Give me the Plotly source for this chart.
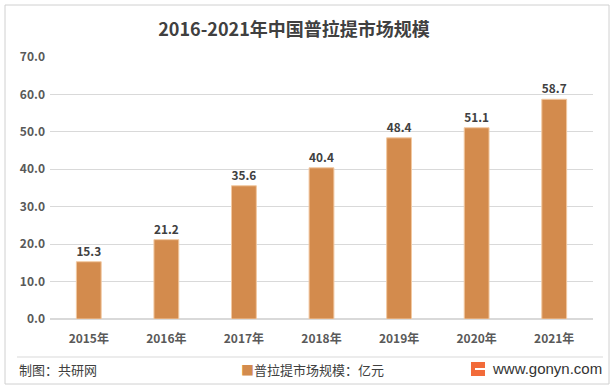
import plotly.graph_objects as go

years = ["2015年", "2016年", "2017年", "2018年", "2019年", "2020年", "2021年"]
values = [15.3, 21.2, 35.6, 40.4, 48.4, 51.1, 58.7]
y_ticks = [0, 10, 20, 30, 40, 50, 60, 70]
title_text = "2016-2021年中国普拉提市场规模"
series_name = "普拉提市场规模：亿元"
source_text = "制图：共研网"
site_text = "www.gonyn.com"

W, H = 614, 390
L, R, T, B = 50, 593, 57, 319  # plot area in px


def px(x):
    return (x - L) / (R - L)


def py(y):
    return (B - y) / (B - T)


FONT = "Noto Sans CJK SC, Microsoft YaHei, sans-serif"
BAR = "#D38B4D"

fig = go.Figure()
fig.add_trace(go.Bar(
    x=years, y=values, name=series_name,
    marker=dict(color=BAR, line=dict(color="#F2C9A2", width=1)),
    width=0.32,
    text=[f"{v:.1f}" for v in values], textposition="outside",
    textfont=dict(family=FONT, size=12, color="#404040", weight="bold"),
    cliponaxis=False, showlegend=False,
))

fig.update_layout(
    width=W, height=H,
    margin=dict(l=L, r=W - R, t=T, b=H - B, autoexpand=False),
    paper_bgcolor="white", plot_bgcolor="white",
    font=dict(family=FONT, color="#595959"),
    title=dict(text=title_text, x=294 / W, y=1 - 30 / H, xanchor="center", yanchor="middle",
               xref="container", yref="container",
               font=dict(family=FONT, size=18, color="#404040", weight="bold")),
    showlegend=False,
    xaxis=dict(showgrid=False, showline=False, zeroline=False, ticks="",
               tickfont=dict(family=FONT, size=12, color="#595959", weight="bold"),
               ticklabelstandoff=11),
    yaxis=dict(range=[0, 70], tickvals=y_ticks, ticktext=[f"{v:.1f}" for v in y_ticks],
               showgrid=True, gridcolor="#D9D9D9", gridwidth=1, zeroline=True,
               zerolinecolor="#D9D9D9", showline=False, ticks="",
               tickfont=dict(family=FONT, size=12, color="#595959", weight="bold"),
               ticklabelstandoff=4),
)

shapes = [
    dict(type="rect", xref="paper", yref="paper", x0=px(5), x1=px(609), y0=py(384), y1=py(5),
         line=dict(color="#D0D0D0", width=1), fillcolor="rgba(0,0,0,0)", layer="below"),
    dict(type="line", xref="paper", yref="paper", x0=px(17), x1=px(603), y0=py(357), y1=py(357),
         line=dict(color="#D9D9D9", width=1)),
    dict(type="rect", xref="paper", yref="paper", x0=px(471), x1=px(485), y0=py(376), y1=py(362),
         line=dict(width=0), fillcolor="#F26B3A"),
    dict(type="rect", xref="paper", yref="paper", x0=px(475), x1=px(485), y0=py(370), y1=py(368),
         line=dict(width=0), fillcolor="white"),
]
fig.update_layout(shapes=shapes)

fig.add_annotation(text=source_text, xref="paper", yref="paper", x=px(17), y=py(369),
                   xanchor="left", yanchor="middle", showarrow=False,
                   font=dict(family=FONT, size=13, color="#404040"))
fig.add_annotation(text=f"<span style='color:{BAR}'>■</span>{series_name}",
                   xref="paper", yref="paper", x=px(239), y=py(369),
                   xanchor="left", yanchor="middle", showarrow=False,
                   font=dict(family=FONT, size=13, color="#404040"))
fig.add_annotation(text=site_text, xref="paper", yref="paper", x=px(604), y=py(368),
                   xanchor="right", yanchor="middle", showarrow=False,
                   font=dict(family="Liberation Sans, Arial, sans-serif", size=15, color="#333333"))

fig.write_html("out.html", config={"displayModeBar": False},
               post_script="document.body.style.margin='0';document.body.style.overflow='hidden';")
